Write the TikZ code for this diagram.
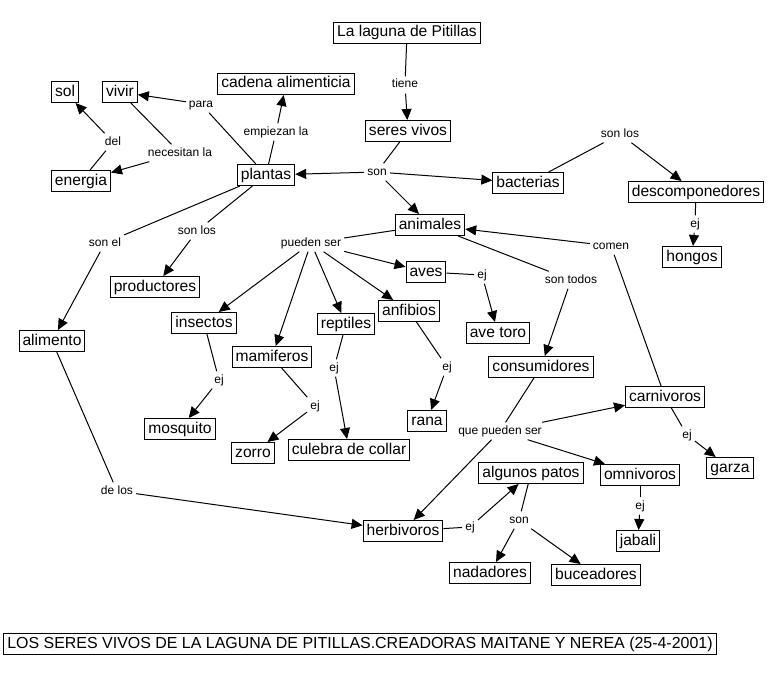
\documentclass[tikz,border=0pt]{standalone}
\usepackage{fontspec}
\setmainfont{Liberation Sans}
\usetikzlibrary{arrows.meta}
\tikzset{
  concept/.style={draw, line width=1pt, fill=white, font=\fontsize{15.6}{18}\selectfont, inner xsep=3.5pt, inner ysep=3pt, text height=11.5pt, text depth=3.5pt},
  linkph/.style={font=\fontsize{12}{14}\selectfont, inner sep=3pt, text height=8.5pt, text depth=2.5pt},
  con/.style={line width=1pt},
  arr/.style={line width=1pt, -{Triangle[length=11pt,width=10pt]}},
}
\begin{document}
\begin{tikzpicture}[x=1pt,y=-1pt]
\useasboundingbox (0,0) rectangle (776,677);
% concepts
\node[concept] (lag) at (407,33) {La laguna de Pitillas};
\node[concept] (ser) at (408,131) {seres vivos};
\node[concept] (pla) at (266,175) {plantas};
\node[concept] (bac) at (528,183) {bacterias};
\node[concept] (ani) at (430,225) {animales};
\node[concept] (des) at (696,192) {descomponedores};
\node[concept] (hon) at (692,257) {hongos};
\node[concept] (cad) at (286,84) {cadena alimenticia};
\node[concept] (viv) at (120,92) {vivir};
\node[concept] (sol) at (65,92) {sol};
\node[concept] (ene) at (81,181) {energia};
\node[concept] (pro) at (155,287) {productores};
\node[concept] (ali) at (52,341) {alimento};
\node[concept] (ave) at (426,272) {aves};
\node[concept] (avt) at (498,333) {ave toro};
\node[concept] (anf) at (409,311) {anfibios};
\node[concept] (rep) at (346,324) {reptiles};
\node[concept] (ins) at (204,323) {insectos};
\node[concept] (mam) at (272,357) {mamiferos};
\node[concept] (mos) at (180,429) {mosquito};
\node[concept] (zor) at (253,453) {zorro};
\node[concept] (cul) at (349,450) {culebra de collar};
\node[concept] (ran) at (427,421) {rana};
\node[concept] (cons) at (541,367) {consumidores};
\node[concept] (car) at (665,397) {carnivoros};
\node[concept] (gar) at (730,468) {garza};
\node[concept] (omn) at (640,475) {omnivoros};
\node[concept] (jab) at (638,541) {jabali};
\node[concept] (pat) at (531,473) {algunos patos};
\node[concept] (nad) at (490,573) {nadadores};
\node[concept] (buc) at (596,575) {buceadores};
\node[concept] (her) at (403,531) {herbivoros};
\node[concept, font=\fontsize{15.95}{18}\selectfont] (tit) at (360,644) {LOS SERES VIVOS DE LA LAGUNA DE PITILLAS.CREADORAS MAITANE Y NEREA (25-4-2001)};
% linking phrases
\node[linkph] (l1) at (405,85) {tiene};
\node[linkph] (l2) at (377,172) {son};
\node[linkph] (l3) at (620,134) {son los};
\node[linkph] (l4) at (695,224) {ej};
\node[linkph] (l5) at (276,132) {empiezan la};
\node[linkph] (l6) at (201,104) {para};
\node[linkph] (l7) at (180,153) {necesitan la};
\node[linkph] (l8) at (113,142) {del};
\node[linkph] (l9) at (105,243) {son el};
\node[linkph] (l10) at (197,231) {son los};
\node[linkph] (l11) at (117,491) {de los};
\node[linkph] (l12) at (311,243) {pueden ser};
\node[linkph] (l13) at (482,275) {ej};
\node[linkph] (l14) at (219,380) {ej};
\node[linkph] (l15) at (315,406) {ej};
\node[linkph] (l16) at (334,368) {ej};
\node[linkph] (l17) at (447,367) {ej};
\node[linkph] (l18) at (571,280) {son todos};
\node[linkph] (l19) at (611,246) {comen};
\node[linkph] (l20) at (500,431) {que pueden ser};
\node[linkph] (l21) at (687,435) {ej};
\node[linkph] (l22) at (640,506) {ej};
\node[linkph] (l23) at (470,527) {ej};
\node[linkph] (l24) at (519,520) {son};
% connectors
\draw[con] (lag) -- (l1); \draw[arr] (l1) -- (ser);
\draw[con] (ser) -- (l2);
\draw[arr] (l2) -- (pla); \draw[arr] (l2) -- (bac); \draw[arr] (l2) -- (ani);
\draw[con] (bac) -- (l3); \draw[arr] (l3) -- (des);
\draw[con] (des) -- (l4); \draw[arr] (l4) -- (hon);
\draw[con] (pla) -- (l5); \draw[arr] (l5) -- (cad);
\draw[con] (pla) -- (l6); \draw[arr] (l6) -- (viv);
\draw[con] (viv) -- (l7); \draw[arr] (l7) -- (ene);
\draw[con] (ene) -- (l8); \draw[arr] (l8) -- (sol);
\draw[con] (pla) -- (l9); \draw[arr] (l9) -- (ali);
\draw[con] (pla) -- (l10); \draw[arr] (l10) -- (pro);
\draw[con] (ali) -- (l11); \draw[arr] (l11) -- (her);
\draw[con] (ani) -- (l12);
\draw[arr] (l12) -- (ave); \draw[arr] (l12) -- (anf); \draw[arr] (l12) -- (rep);
\draw[arr] (l12) -- (mam); \draw[arr] (l12) -- (ins);
\draw[con] (ave) -- (l13); \draw[arr] (l13) -- (avt);
\draw[con] (ins) -- (l14); \draw[arr] (l14) -- (mos);
\draw[con] (mam) -- (l15); \draw[arr] (l15) -- (zor);
\draw[con] (rep) -- (l16); \draw[arr] (l16) -- (cul);
\draw[con] (anf) -- (l17); \draw[arr] (l17) -- (ran);
\draw[con] (ani) -- (l18); \draw[arr] (l18) -- (cons);
\draw[con] (car) -- (l19); \draw[arr] (l19) -- (ani);
\draw[con] (cons) -- (l20);
\draw[arr] (l20) -- (car); \draw[arr] (l20) -- (omn); \draw[arr] (l20) -- (her);
\draw[con] (car) -- (l21); \draw[arr] (l21) -- (gar);
\draw[con] (omn) -- (l22); \draw[arr] (l22) -- (jab);
\draw[con] (her) -- (l23); \draw[arr] (l23) -- (pat);
\draw[con] (pat) -- (l24); \draw[arr] (l24) -- (nad); \draw[arr] (l24) -- (buc);
\end{tikzpicture}
\end{document}
